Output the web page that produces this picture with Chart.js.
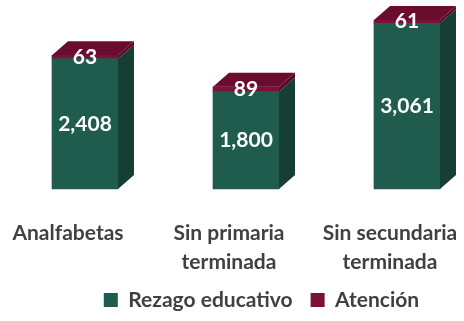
<!DOCTYPE html>
<html>
<head>
<meta charset="utf-8">
<script src="https://cdn.jsdelivr.net/npm/chart.js@4.4.1/dist/chart.umd.min.js"></script>
<style>
  html, body { margin: 0; padding: 0; background: #ffffff; }
  #wrap { width: 464px; height: 321px; }
</style>
</head>
<body>
<div id="wrap"><canvas id="chart" width="464" height="321"></canvas></div>
<script>
// Población en rezago educativo y atendida, por nivel
const categories = ['Analfabetas', ['Sin primaria', 'terminada'], ['Sin secundaria', 'terminada']];
const rezago = [2408, 1800, 3061];
const atencion = [63, 89, 61];
const seriesNames = ['Rezago educativo', 'Atención'];

const FONT = "Lato, 'Open Sans', sans-serif";
const frontColors = ['#1f5c4d', '#7a1136'];
const sideColors = ['#153e34', '#560a26'];
const topColor = '#6a0c2e';
const DX = 16, DY = 14;

// Extrudes every bar segment into a box: right side face plus a top face on the stack
const bar3d = {
  id: 'bar3d',
  afterDatasetsDraw(chart) {
    const ctx = chart.ctx;
    const last = chart.data.datasets.length - 1;
    chart.data.datasets.forEach((ds, di) => {
      const meta = chart.getDatasetMeta(di);
      meta.data.forEach(bar => {
        const p = bar.getProps(['x', 'y', 'base', 'width'], true);
        const l = p.x - p.width / 2, r = p.x + p.width / 2;
        ctx.save();
        ctx.fillStyle = sideColors[di];
        ctx.beginPath();
        ctx.moveTo(r, p.y);
        ctx.lineTo(r + DX, p.y - DY);
        ctx.lineTo(r + DX, p.base - DY);
        ctx.lineTo(r, p.base);
        ctx.closePath();
        ctx.fill();
        if (di === last) {
          ctx.fillStyle = topColor;
          ctx.beginPath();
          ctx.moveTo(l, p.y);
          ctx.lineTo(l + DX, p.y - DY);
          ctx.lineTo(r + DX, p.y - DY);
          ctx.lineTo(r, p.y);
          ctx.closePath();
          ctx.fill();
        }
        ctx.restore();
      });
    });
  }
};

// Value labels centred on each segment
const valueLabels = {
  id: 'valueLabels',
  afterDatasetsDraw(chart) {
    const ctx = chart.ctx;
    ctx.save();
    ctx.fillStyle = '#ffffff';
    ctx.font = 'bold 21px ' + FONT;
    ctx.textAlign = 'center';
    ctx.textBaseline = 'middle';
    chart.data.datasets.forEach((ds, di) => {
      const meta = chart.getDatasetMeta(di);
      meta.data.forEach((bar, i) => {
        const p = bar.getProps(['x', 'y', 'base'], true);
        const v = ds.data[i];
        ctx.fillText(v.toLocaleString('en-US'), p.x, (p.y + p.base) / 2);
      });
    });
    ctx.restore();
  }
};

new Chart(document.getElementById('chart'), {
  type: 'bar',
  data: {
    labels: categories,
    datasets: [
      { label: seriesNames[0], data: rezago, backgroundColor: frontColors[0], barThickness: 66, clip: false },
      { label: seriesNames[1], data: atencion, backgroundColor: frontColors[1], barThickness: 66, clip: false }
    ]
  },
  options: {
    responsive: false,
    animation: false,
    devicePixelRatio: 1,
    layout: { padding: { left: 69, right: 10, top: 5, bottom: 0.5 } },
    plugins: {
      tooltip: { enabled: false },
      legend: {
        position: 'bottom',
        labels: {
          boxWidth: 14,
          boxHeight: 14,
          padding: 18,
          color: '#404040',
          font: { family: FONT, size: 21, weight: 'bold' }
        }
      }
    },
    scales: {
      x: {
        stacked: true,
        offset: false,
        grid: { display: false, drawTicks: false },
        border: { display: false },
        ticks: {
          padding: 29.5,
          labelOffset: -17,
          maxRotation: 0,
          autoSkip: false,
          color: '#404040',
          font: { family: FONT, size: 21, weight: 'bold', lineHeight: 1.38 }
        },
        // plot band runs from x=85 to x=407
        afterFit(s) { s.paddingLeft = 85; s.paddingRight = 57; s.height = 82.5; }
      },
      y: {
        stacked: true,
        display: false,
        min: 0,
        max: 3400
      }
    }
  },
  plugins: [bar3d, valueLabels]
});
</script>
</body>
</html>
